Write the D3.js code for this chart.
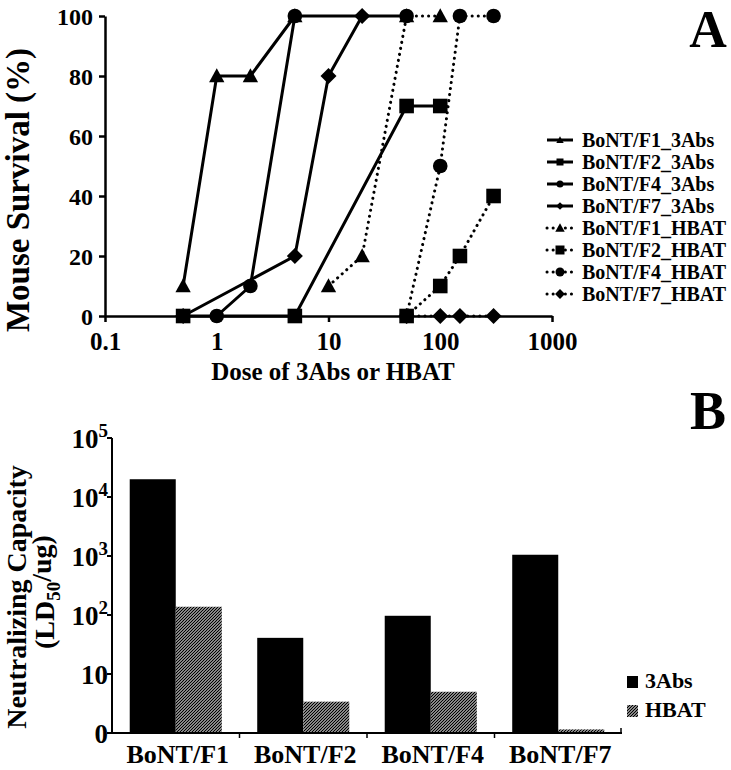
<!DOCTYPE html>
<html><head><meta charset="utf-8">
<script src="https://cdn.jsdelivr.net/npm/d3@7"></script>
<style>
body{margin:0;background:#fff;}
svg text{font-family:"Liberation Serif","Times New Roman",serif;font-weight:bold;fill:#000;}
</style></head>
<body><svg id="c" width="731" height="770"></svg>
<script>
// ---------- Panel A data ----------
const seriesNames = ["BoNT/F1_3Abs","BoNT/F2_3Abs","BoNT/F4_3Abs","BoNT/F7_3Abs","BoNT/F1_HBAT","BoNT/F2_HBAT","BoNT/F4_HBAT","BoNT/F7_HBAT"];
const seriesShapes = ["triangle","square","circle","diamond","triangle","square","circle","diamond"];
const seriesDotted = [false,false,false,false,true,true,true,true];
const F1_3Abs_dose = [0.5,1,2,5];        const F1_3Abs_surv = [10,80,80,100];
const F2_3Abs_dose = [0.5,5,50,100];     const F2_3Abs_surv = [0,0,70,70];
const F4_3Abs_dose = [1,2,5,50];         const F4_3Abs_surv = [0,10,100,100];
const F7_3Abs_dose = [0.5,5,10,20];      const F7_3Abs_surv = [0,20,80,100];
const F1_HBAT_dose = [10,20,50,100];     const F1_HBAT_surv = [10,20,100,100];
const F2_HBAT_dose = [50,100,150,300];   const F2_HBAT_surv = [0,10,20,40];
const F4_HBAT_dose = [50,100,150,300];   const F4_HBAT_surv = [0,50,100,100];
const F7_HBAT_dose = [50,100,150,300];   const F7_HBAT_surv = [0,0,0,0];
const doseSets = [F1_3Abs_dose,F2_3Abs_dose,F4_3Abs_dose,F7_3Abs_dose,F1_HBAT_dose,F2_HBAT_dose,F4_HBAT_dose,F7_HBAT_dose];
const survSets = [F1_3Abs_surv,F2_3Abs_surv,F4_3Abs_surv,F7_3Abs_surv,F1_HBAT_surv,F2_HBAT_surv,F4_HBAT_surv,F7_HBAT_surv];
const xTicksA = [0.1,1,10,100,1000];
const yTicksA = [0,20,40,60,80,100];

// ---------- Panel B data ----------
const categoriesB = ["BoNT/F1","BoNT/F2","BoNT/F4","BoNT/F7"];
const groupsB = ["3Abs","HBAT"];
const values3Abs = [20000,41,97,1050];
const valuesHBAT = [138,3.4,5,1.15];
const yTicksB = [1,10,100,1000,10000,100000];

const svg = d3.select("#c");
const defs = svg.append("defs");
const pat = defs.append("pattern").attr("id","hatch").attr("patternUnits","userSpaceOnUse")
  .attr("width",3).attr("height",3);
pat.append("rect").attr("width",3).attr("height",3).attr("fill","#fff");
pat.append("path").attr("d","M-0.75,0.75 l1.5,-1.5 M0,3 l3,-3 M2.25,3.75 l1.5,-1.5")
  .attr("stroke","#000").attr("stroke-width",1.35);

function markerPath(shape, r){
  const p = d3.path();
  if(shape==="square"){ p.rect(-r,-r,2*r,2*r); }
  else if(shape==="circle"){ p.arc(0,0,r,0,2*Math.PI); }
  else if(shape==="triangle"){ p.moveTo(0,-r*1.05); p.lineTo(r*1.05,r*0.85); p.lineTo(-r*1.05,r*0.85); p.closePath(); }
  else { p.moveTo(0,-r*1.1); p.lineTo(r*1.1,0); p.lineTo(0,r*1.1); p.lineTo(-r*1.1,0); p.closePath(); }
  return p.toString();
}

// ---------- Panel A ----------
const xA = d3.scaleLog().domain([0.1,1000]).range([105,552]);
const yA = d3.scaleLinear().domain([0,100]).range([316,16]);
const gA = svg.append("g");

const axL = gA.append("g").attr("transform","translate(105,0)")
  .call(d3.axisLeft(yA).tickValues(yTicksA).tickSize(6).tickSizeOuter(0).tickFormat(d3.format("d")));
axL.select(".domain").attr("stroke","#000").attr("stroke-width",2.5);
axL.selectAll(".tick line").attr("stroke","#000").attr("stroke-width",2.5);
axL.selectAll(".tick text").attr("x",-12).attr("dy","0.36em").style("font-size","24px")
  .style("font-family","'Liberation Serif',serif").style("font-weight","bold");

const axB = gA.append("g").attr("transform","translate(0,316)")
  .call(d3.axisBottom(xA).tickValues(xTicksA).tickSize(6).tickSizeOuter(0).tickFormat(d=>String(d)));
axB.select(".domain").attr("stroke","#000").attr("stroke-width",2.5);
axB.selectAll(".tick line").attr("stroke","#000").attr("stroke-width",2.5);
axB.selectAll(".tick text").attr("y",16).attr("dy","0.71em").style("font-size","25px")
  .style("font-family","'Liberation Serif',serif").style("font-weight","bold");

gA.append("text").attr("x",333).attr("y",380).attr("text-anchor","middle").style("font-size","25px")
  .text("Dose of 3Abs or HBAT");
gA.append("text").attr("transform","translate(29,190) rotate(-90)").attr("text-anchor","middle")
  .style("font-size","33px").text("Mouse Survival (%)");
gA.append("text").attr("x",708).attr("y",47).attr("text-anchor","middle").style("font-size","52px").text("A");

const line = d3.line().x(d=>xA(d[0])).y(d=>yA(d[1]));
seriesNames.forEach((name,i)=>{
  const pts = doseSets[i].map((d,j)=>[d,survSets[i][j]]);
  gA.append("path").datum(pts).attr("d",line).attr("fill","none").attr("stroke","#000")
    .attr("stroke-width",3)
    .attr("stroke-linecap",seriesDotted[i]?"round":"butt")
    .attr("stroke-dasharray",seriesDotted[i]?"0.1 6":null);
});
seriesNames.forEach((name,i)=>{
  const pts = doseSets[i].map((d,j)=>[d,survSets[i][j]]);
  gA.selectAll(null).data(pts).enter().append("path")
    .attr("transform",d=>`translate(${xA(d[0])},${yA(d[1])})`)
    .attr("d",markerPath(seriesShapes[i],7.3)).attr("fill","#000");
});

// legend A
const legA = gA.append("g");
seriesNames.forEach((name,i)=>{
  const y = 140 + i*22;
  legA.append("line").attr("x1",547).attr("x2",573).attr("y1",y).attr("y2",y)
    .attr("stroke","#000").attr("stroke-width",3)
    .attr("stroke-linecap",seriesDotted[i]?"round":"butt")
    .attr("stroke-dasharray",seriesDotted[i]?"0.1 6":null);
  legA.append("path").attr("transform",`translate(560,${y})`)
    .attr("d",markerPath(seriesShapes[i],seriesDotted[i]?4.5:3.5)).attr("fill","#000");
  legA.append("text").attr("x",582).attr("y",y).attr("dy","0.35em").style("font-size","20px").text(name);
});

// ---------- Panel B ----------
const xB = d3.scaleBand().domain(categoriesB).range([112,622]).paddingInner(0.278).paddingOuter(0.139);
const xSub = d3.scaleBand().domain(groupsB).range([0,xB.bandwidth()]);
const yB = d3.scaleLog().domain([1,100000]).range([733,438]);
const gB = svg.append("g");

const dataB = categoriesB.map((c,i)=>({cat:c, vals:[values3Abs[i],valuesHBAT[i]]}));
dataB.forEach(d=>{
  groupsB.forEach((g,k)=>{
    gB.append("rect").attr("x",xB(d.cat)+xSub(g)).attr("width",xSub.bandwidth())
      .attr("y",yB(d.vals[k])).attr("height",yB(1)-yB(d.vals[k]))
      .attr("fill",k===0?"#000":"url(#hatch)");
  });
});

// y axis B
gB.append("line").attr("x1",112).attr("x2",112).attr("y1",yB(100000)).attr("y2",yB(1)).attr("stroke","#000").attr("stroke-width",2);
yTicksB.forEach(v=>{
  gB.append("line").attr("x1",107).attr("x2",112).attr("y1",yB(v)).attr("y2",yB(v)).attr("stroke","#000").attr("stroke-width",2);
  const t = gB.append("text").attr("x",108).attr("y",yB(v)).attr("dy","0.36em").attr("text-anchor","end").style("font-size","27px");
  const e = Math.round(Math.log10(v));
  if(e===0){ t.text("0"); }
  else if(e===1){ t.text("10"); }
  else { t.text("10"); t.append("tspan").attr("dy","-0.55em").style("font-size","19px").text(String(e)); }
});
// x axis B
gB.append("line").attr("x1",112).attr("x2",622).attr("y1",733).attr("y2",733).attr("stroke","#000").attr("stroke-width",2);
categoriesB.forEach((c,i)=>{
  if(i>0){
    const bx = xB(c) - xB.step()*xB.paddingInner()/2;
    gB.append("line").attr("x1",bx).attr("x2",bx).attr("y1",733).attr("y2",738).attr("stroke","#000").attr("stroke-width",1.5);
  }
  gB.append("text").attr("x",xB(c)+xB.bandwidth()/2+2).attr("y",763).attr("text-anchor","middle").style("font-size","26px").text(c);
});
gB.append("line").attr("x1",621).attr("x2",621).attr("y1",728).attr("y2",733).attr("stroke","#000").attr("stroke-width",1.5);

gB.append("text").attr("transform","translate(26,597) rotate(-90)").attr("text-anchor","middle")
  .style("font-size","28px").text("Neutralizing Capacity");
const lt = gB.append("text").attr("transform","translate(54,592) rotate(-90)").attr("text-anchor","middle").style("font-size","28px");
lt.append("tspan").text("(LD");
lt.append("tspan").attr("dy","0.3em").style("font-size","19px").text("50");
lt.append("tspan").attr("dy","-0.3em").text("/ug)");

gB.append("text").attr("x",708).attr("y",429).attr("text-anchor","middle").style("font-size","54px").text("B");

// legend B
groupsB.forEach((g,k)=>{
  const y = 676 + k*29;
  gB.append("rect").attr("x",627).attr("y",y).attr("width",11).attr("height",12)
    .attr("fill",k===0?"#000":"url(#hatch)");
  gB.append("text").attr("x",645).attr("y",y+12).style("font-size","22px").text(g);
});
</script></body></html>
